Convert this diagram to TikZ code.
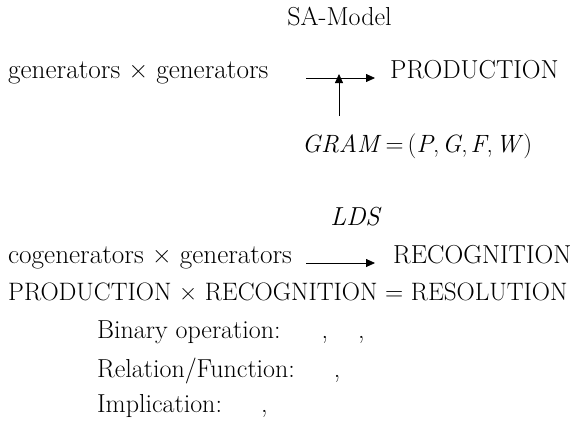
\documentclass[tikz,border=0pt]{standalone}
\usepackage{amsmath}
\usepackage{amssymb}
\usetikzlibrary{positioning,calc,arrows.meta}

\begin{document}
\begin{tikzpicture}[x=1pt, y=-1pt,
            txt/.style={anchor=base west, inner sep=0pt, font=\fontsize{26}{30}\selectfont},
            wide/.style={txt, font=\fontsize{27.2}{30}\selectfont},
            arr/.style={-{Triangle[length=9pt,width=8pt]}, line width=0.8pt}
        ]
          \useasboundingbox (0,0) rectangle (580,421);
          \node[txt, anchor=base] (sa) at (339.5,25) {SA-Model};
          \node[wide] (gen) at (8,78) {generators \texttimes{} generators};
          \node[txt] (prod) at (390,78) {PRODUCTION};
          \node[txt, font=\fontsize{25}{30}\selectfont] (gram) at (302,152) {\textit{GRAM}\,=\hspace{4pt}(\textit{P},\hspace{3pt}\textit{G},\hspace{3pt}\textit{F},\hspace{3pt}\textit{W})};
          \node[txt, anchor=base] (lds) at (356,225) {\textit{LDS}};
          \node[wide] (cogen) at (8,263) {cogenerators \texttimes{} generators};
          \node[txt] (rec) at (393,263) {RECOGNITION};
          \node[txt, font=\fontsize{25.2}{30}\selectfont] (res) at (8,300) {PRODUCTION \texttimes{} RECOGNITION = RESOLUTION};
          \node[txt] (binop) at (97,338) {Binary operation:\hspace{41pt},\hspace{30pt},};
          \node[txt] (relfun) at (97,377) {Relation/Function:\hspace{39pt},};
          \node[txt] (impl) at (97,412) {Implication:\hspace{39pt},};
          \coordinate (join) at (339,69);
          \draw[arr] (gen.base east -| 306,69) -- (prod.base west -| 375,69);
          \draw[arr, shorten <=17pt, shorten >=5pt] (join |- gram.north) -- (join);
          \draw[arr] (cogen.base east -| 306,258) -- (rec.base west -| 375,258);
        \end{tikzpicture}
\end{document}
